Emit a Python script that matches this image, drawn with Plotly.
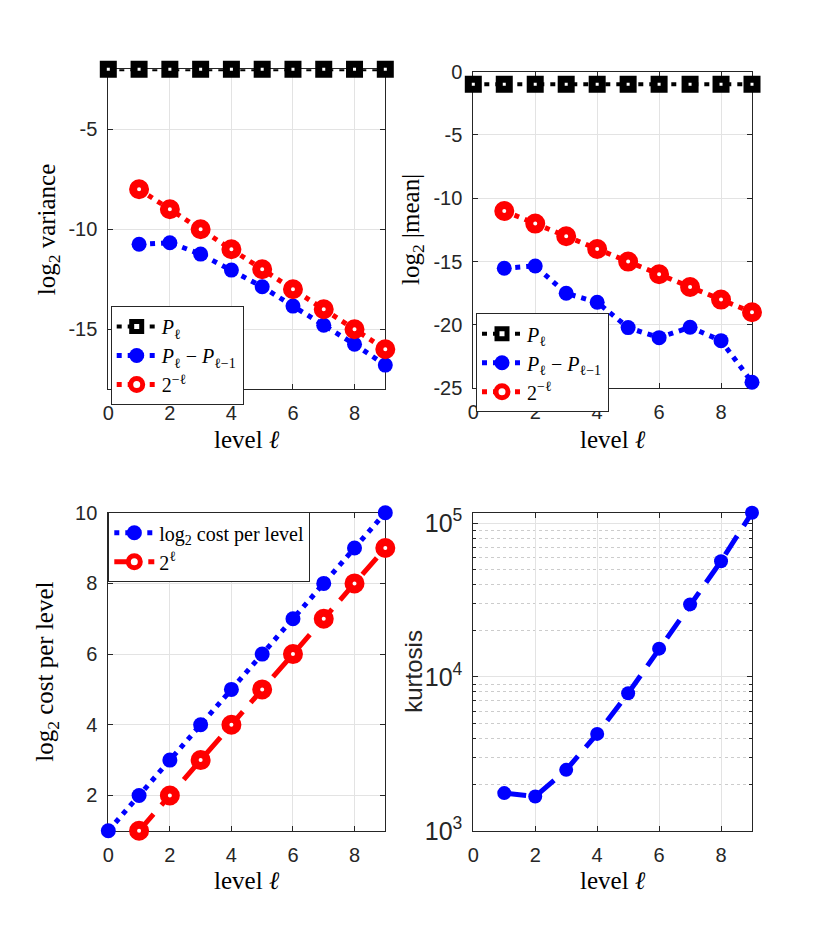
import plotly.graph_objects as go
import math

# ---------------- data ----------------
levels = [0, 1, 2, 3, 4, 5, 6, 7, 8, 9]
levels_1 = [1, 2, 3, 4, 5, 6, 7, 8, 9]

var_P = [-2.0, -2.0, -2.0, -2.0, -2.0, -2.0, -2.0, -2.0, -2.0, -2.0]
var_dP = [-10.75, -10.67, -11.24, -12.04, -12.87, -13.84, -14.80, -15.75, -16.79]
var_ref = [-8, -9, -10, -11, -12, -13, -14, -15, -16]

mean_P = [-1.0, -1.0, -1.0, -1.0, -1.0, -1.0, -1.0, -1.0, -1.0, -1.0]
mean_dP = [-15.52, -15.34, -17.50, -18.21, -20.21, -21.00, -20.18, -21.24, -24.52]
mean_ref = [-11, -12, -13, -14, -15, -16, -17, -18, -19]

cost = [1, 2, 3, 4, 5, 6, 7, 8, 9, 10]
cost_ref = [1, 2, 3, 4, 5, 6, 7, 8, 9]

kurt = [1758, 1670, 2490, 4266, 7835, 15280, 29640, 56600, 117000]

x_ticks = [0, 2, 4, 6, 8]
var_ticks = [-15, -10, -5]
mean_ticks = [-25, -20, -15, -10, -5, 0]
cost_ticks = [2, 4, 6, 8, 10]

# ---------------- style ----------------
W, H = 830, 934
SERIF = "Liberation Serif"
SANS = "Liberation Sans"
AX = "#262626"
BLUE = "#0000ff"
RED = "#ff0000"
DOT = "5px,6px"
DASH = "22px,12px"


def px_x(p):
    return p / W


def px_y(p):
    return 1 - p / H


def square_marker():
    return dict(symbol="square", size=10, color="white", line=dict(color="black", width=7))


def blue_marker(size=15):
    return dict(symbol="circle", size=size, color=BLUE, line=dict(width=0))


def red_marker():
    return dict(symbol="circle", size=12, color="white", line=dict(color=RED, width=8))


fig = go.Figure()

# top-left
fig.add_trace(go.Scatter(x=levels, y=var_P, mode="lines+markers", name="<i>P</i><sub>ℓ</sub>",
                         line=dict(color="black", width=4, dash=DOT), marker=square_marker(),
                         xaxis="x", yaxis="y", legend="legend", cliponaxis=False))
fig.add_trace(go.Scatter(x=levels_1, y=var_dP, mode="lines+markers",
                         name="<i>P</i><sub>ℓ</sub> − <i>P</i><sub>ℓ−1</sub>",
                         line=dict(color=BLUE, width=5, dash=DOT), marker=blue_marker(),
                         xaxis="x", yaxis="y", legend="legend", cliponaxis=False))
fig.add_trace(go.Scatter(x=levels_1, y=var_ref, mode="lines+markers", name="2<sup>−ℓ</sup>",
                         line=dict(color=RED, width=5, dash=DOT), marker=red_marker(),
                         xaxis="x", yaxis="y", legend="legend", cliponaxis=False))

# top-right
fig.add_trace(go.Scatter(x=levels, y=mean_P, mode="lines+markers", name="<i>P</i><sub>ℓ</sub>",
                         line=dict(color="black", width=4, dash=DOT), marker=square_marker(),
                         xaxis="x2", yaxis="y2", legend="legend2", cliponaxis=False))
fig.add_trace(go.Scatter(x=levels_1, y=mean_dP, mode="lines+markers",
                         name="<i>P</i><sub>ℓ</sub> − <i>P</i><sub>ℓ−1</sub>",
                         line=dict(color=BLUE, width=5, dash=DOT), marker=blue_marker(),
                         xaxis="x2", yaxis="y2", legend="legend2", cliponaxis=False))
fig.add_trace(go.Scatter(x=levels_1, y=mean_ref, mode="lines+markers", name="2<sup>−ℓ</sup>",
                         line=dict(color=RED, width=5, dash=DOT), marker=red_marker(),
                         xaxis="x2", yaxis="y2", legend="legend2", cliponaxis=False))

# bottom-left
fig.add_trace(go.Scatter(x=levels, y=cost, mode="lines+markers", name="log<sub>2</sub> cost per level",
                         line=dict(color=BLUE, width=5, dash=DOT), marker=blue_marker(),
                         xaxis="x3", yaxis="y3", legend="legend3", cliponaxis=False))
fig.add_trace(go.Scatter(x=levels_1, y=cost_ref, mode="lines+markers", name="2<sup>ℓ</sup>",
                         line=dict(color=RED, width=5, dash=DASH), marker=red_marker(),
                         xaxis="x3", yaxis="y3", legend="legend3", cliponaxis=False))

# bottom-right
fig.add_trace(go.Scatter(x=levels_1, y=kurt, mode="lines+markers", name="kurtosis",
                         line=dict(color=BLUE, width=5, dash=DASH), marker=blue_marker(14),
                         xaxis="x4", yaxis="y4", showlegend=False, cliponaxis=False))


def axis(domain, anchor, rng, ticks=None, **kw):
    d = dict(domain=domain, anchor=anchor, range=rng, showline=True, linecolor=AX, linewidth=1,
             mirror="ticks", ticks="inside", ticklen=5, tickcolor=AX, showgrid=True,
             gridcolor="#e3e3e3", gridwidth=1, zeroline=False, layer="below traces",
             automargin=False,
             tickfont=dict(family=SANS, size=20, color=AX), ticklabelstandoff=6)
    if ticks is not None:
        d.update(tickmode="array", tickvals=ticks, ticktext=[str(t) for t in ticks])
    d.update(kw)
    return d


XL = [px_x(108.3), px_x(385.3)]
XR = [px_x(473.3), px_x(752.0)]
YTL = [px_y(389.3), px_y(69.3)]
YTR = [px_y(388.3), px_y(71.6)]
YB = [px_y(830.8), px_y(512.7)]

legend_style = dict(bgcolor="white", bordercolor=AX, borderwidth=1,
                    font=dict(family=SERIF, size=20, color="black"),
                    xanchor="left", yanchor="top", itemwidth=40, tracegroupgap=0)

fig.update_layout(
    width=W, height=H, margin=dict(l=0, r=0, t=0, b=0, pad=0),
    paper_bgcolor="white", plot_bgcolor="white",
    xaxis=axis(XL, "y", [0, 9], x_ticks),
    yaxis=axis(YTL, "x", [-18, -2], var_ticks),
    xaxis2=axis(XR, "y2", [0, 9], x_ticks),
    yaxis2=axis(YTR, "x2", [-25, 0], mean_ticks),
    xaxis3=axis(XL, "y3", [0, 9], x_ticks),
    yaxis3=axis(YB, "x3", [1, 10], cost_ticks),
    xaxis4=axis(XR, "y4", [0, 9], x_ticks),
    yaxis4=axis(YB, "x4", [3, math.log10(max(kurt))], type="log", dtick=1,
                exponentformat="power", showexponent="all",
                minor=dict(ticks="inside", ticklen=3, tickcolor=AX, showgrid=True,
                           gridcolor="#cccccc", griddash="dot", dtick="D1")),
    legend=dict(legend_style, x=px_x(110.7), y=px_y(306)),
    legend2=dict(legend_style, x=px_x(476), y=px_y(313.3)),
    legend3=dict(legend_style, x=px_x(108.3), y=px_y(512.3)),
    showlegend=True,
)

title_font = dict(family=SERIF, size=25, color="black")
anns = [
    dict(text="log<sub>2</sub> variance", x=px_x(48), y=(YTL[0] + YTL[1]) / 2, textangle=-90, font=title_font),
    dict(text="log<sub>2</sub> |mean|", x=px_x(413), y=(YTR[0] + YTR[1]) / 2, textangle=-90, font=title_font),
    dict(text="log<sub>2</sub> cost per level", x=px_x(47), y=(YB[0] + YB[1]) / 2, textangle=-90, font=title_font),
    dict(text="kurtosis", x=px_x(414), y=(YB[0] + YB[1]) / 2, textangle=-90,
         font=dict(family=SANS, size=24, color=AX)),
    dict(text="level <i>ℓ</i>", x=(XL[0] + XL[1]) / 2, y=px_y(439), font=title_font),
    dict(text="level <i>ℓ</i>", x=(XR[0] + XR[1]) / 2, y=px_y(439), font=title_font),
    dict(text="level <i>ℓ</i>", x=(XL[0] + XL[1]) / 2, y=px_y(880), font=title_font),
    dict(text="level <i>ℓ</i>", x=(XR[0] + XR[1]) / 2, y=px_y(880), font=title_font),
]
for a in anns:
    a.update(xref="paper", yref="paper", showarrow=False, xanchor="center", yanchor="middle")
fig.update_layout(annotations=anns)

# page without default body margin so the figure fills the 830x934 window exactly
fig.write_html(
    "out.html",
    config={"displayModeBar": False},
    post_script="document.documentElement.style.margin='0';document.body.style.margin='0';"
                "document.documentElement.style.overflow='hidden';document.body.style.overflow='hidden';",
)
